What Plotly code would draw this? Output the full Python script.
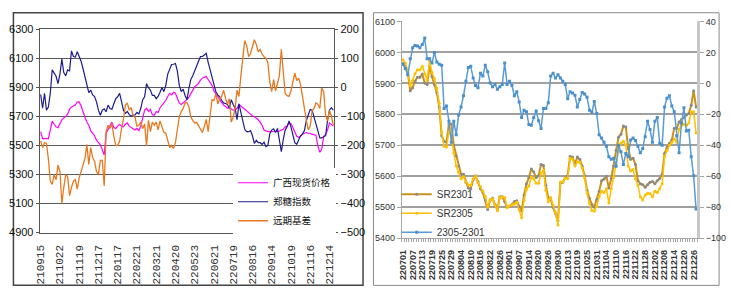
import plotly.graph_objects as go

# ---------------- left chart data ----------------
labels_left = ['210915', '211022', '211119', '211217', '220117', '220221', '220321', '220420',
               '220523', '220621', '220719', '220816', '220914', '221019', '221116', '221214']

spot_gx = [5594, 5546, 5546, 5546, 5546, 5605, 5667, 5645, 5627, 5621, 5649, 5676, 5689, 5698, 5715, 5748,
           5764, 5770, 5777, 5799, 5799, 5770, 5726, 5693, 5660, 5638, 5601, 5583, 5566, 5535, 5517, 5504,
           5469, 5434, 5583, 5610, 5638, 5660, 5623, 5616, 5632, 5645, 5632, 5627, 5645, 5654, 5632, 5623,
           5614, 5605, 5616, 5599, 5632, 5682, 5742, 5755, 5733, 5748, 5711, 5707, 5733, 5726, 5759, 5775,
           5792, 5810, 5836, 5858, 5847, 5865, 5858, 5821, 5790, 5781, 5792, 5803, 5814, 5832, 5854, 5880,
           5902, 5913, 5926, 5948, 5962, 5968, 5973, 5953, 5931, 5913, 5874, 5858, 5836, 5812, 5790, 5777,
           5768, 5755, 5759, 5748, 5742, 5742, 5755, 5781, 5768, 5755, 5748, 5737, 5726, 5715, 5702, 5698,
           5689, 5676, 5660, 5638, 5605, 5597, 5594, 5594, 5594, 5597, 5599, 5594, 5597, 5605, 5610, 5627,
           5632, 5654, 5649, 5623, 5592, 5562, 5555, 5562, 5577, 5583, 5588, 5583, 5583, 5575, 5573, 5570,
           5496, 5452, 5474, 5562, 5573, 5605, 5654, 5645, 5632]

zz_index = [5850, 5755, 5858, 5742, 5764, 5858, 6019, 5997, 5975, 5924, 5990, 6093, 6001, 5979, 6019, 6012,
            6150, 6111, 6107, 6144, 6115, 6078, 6027, 5968, 5902, 5863, 5880, 5847, 5836, 5799, 5742, 5707,
            5742, 5751, 5731, 5777, 5753, 5748, 5786, 5821, 5834, 5858, 5803, 5742, 5720, 5733, 5711, 5702,
            5707, 5709, 5726, 5715, 5755, 5814, 5834, 5924, 5896, 5880, 5843, 5843, 5821, 5836, 5865, 5898,
            5869, 5913, 5990, 6023, 6056, 6058, 6063, 6012, 5913, 5869, 5887, 5843, 5814, 5891, 5953, 5979,
            6016, 6041, 6078, 6111, 6111, 6122, 6133, 6071, 6019, 5968, 5902, 5869, 5847, 5834, 5810, 5792,
            5788, 5781, 5755, 5814, 5781, 5755, 5676, 5786, 5726, 5660, 5610, 5594, 5594, 5601, 5566, 5513,
            5535, 5518, 5518, 5507, 5522, 5491, 5500, 5579, 5605, 5614, 5588, 5616, 5535, 5456, 5539, 5605,
            5627, 5667, 5627, 5573, 5518, 5507, 5544, 5566, 5579, 5601, 5671, 5704, 5746, 5742, 5693, 5645,
            5594, 5551, 5551, 5557, 5566, 5671, 5742, 5759, 5742]

basis_far = [-185, -208, -191, -193, -246, -323, -334, -301, -318, -268, -290, -400, -345, -301, -307, -373,
             -345, -323, -318, -351, -312, -288, -268, -246, -197, -266, -208, -241, -255, -290, -301, -252,
             -252, -340, -153, -131, -142, -125, -169, -200, -200, -186, -142, -109, -62, -54, -79, -70,
             -98, -103, -134, -131, -120, -142, -127, -202, -114, -153, -120, -131, -120, -147, -116, -138,
             -156, -158, -180, -208, -200, -211, -191, -147, -101, -84, -73, -54, -53, -68, -103, -114,
             -123, -121, -132, -143, -156, -136, -111, -153, -98, -43, -46, -22, -57, -40, -32, -10,
             -38, -59, -40, -120, -103, -73, -10, -32, 40, 105, 160, 144, 105, 116, 138, 163,
             147, 122, 130, 114, 105, 100, 84, 18, -15, 26, -13, 15, 40, 130, 67, -21,
             -29, -32, -13, 20, 48, 23, 31, 9, -37, -73, -114, -147, -134, -81, -73, -54,
             -59, -73, -3, -15, -98, -116, -81, -98, -131]

# ---------------- right chart data ----------------
labels_right = ['220701', '220707', '220713', '220719', '220725', '220729', '220804', '220810', '220816',
                '220822', '220826', '220901', '220907', '220914', '220920', '220926', '220930', '221013',
                '221019', '221025', '221031', '221104', '221110', '221116', '221122', '221128', '221202',
                '221208', '221214', '221220', '221226']

sr2301 = [5964, 5955, 5935, 5876, 5886, 5907, 5920, 5920, 5930, 5901, 5896, 5955, 5922, 5896, 5870, 5824,
          5731, 5713, 5710, 5769, 5769, 5700, 5666, 5633, 5607, 5607, 5581, 5562, 5560, 5589, 5602, 5583,
          5560, 5548, 5524, 5493, 5524, 5529, 5509, 5493, 5534, 5534, 5519, 5500, 5503, 5509, 5519, 5521,
          5503, 5488, 5540, 5576, 5596, 5624, 5614, 5596, 5602, 5638, 5635, 5571, 5531, 5527, 5500, 5480,
          5457, 5579, 5581, 5596, 5602, 5664, 5662, 5641, 5662, 5655, 5633, 5602, 5555, 5529, 5509, 5500,
          5525, 5552, 5586, 5591, 5600, 5562, 5593, 5633, 5684, 5726, 5736, 5762, 5759, 5690, 5655, 5658,
          5638, 5586, 5576, 5573, 5565, 5573, 5581, 5583, 5576, 5586, 5593, 5607, 5674, 5693, 5707, 5717,
          5755, 5755, 5775, 5783, 5790, 5798, 5803, 5829, 5876, 5824]

sr2305 = [5976, 5965, 5940, 5892, 5909, 5931, 5944, 5943, 5955, 5930, 5912, 5971, 5935, 5916, 5884, 5836,
          5743, 5697, 5695, 5744, 5731, 5675, 5633, 5613, 5592, 5599, 5582, 5572, 5571, 5592, 5601, 5580,
          5566, 5553, 5536, 5500, 5524, 5527, 5508, 5489, 5532, 5533, 5532, 5499, 5504, 5508, 5511, 5516,
          5491, 5466, 5523, 5558, 5569, 5597, 5592, 5578, 5578, 5609, 5619, 5555, 5518, 5532, 5507, 5483,
          5443, 5582, 5582, 5595, 5592, 5658, 5656, 5633, 5647, 5645, 5627, 5595, 5546, 5512, 5490, 5488,
          5503, 5534, 5552, 5548, 5560, 5514, 5560, 5596, 5638, 5684, 5707, 5713, 5700, 5633, 5617, 5622,
          5591, 5571, 5534, 5524, 5540, 5545, 5545, 5534, 5552, 5548, 5560, 5576, 5664, 5684, 5700, 5710,
          5721, 5710, 5752, 5765, 5767, 5765, 5772, 5808, 5808, 5740]

spread = [12.3, 9.6, 5.5, 15.8, 23.0, 24.5, 24.1, 23.0, 25.1, 29.2, 15.8, 15.8, 13.1, 19.9, 13.7, 12.3,
          11.7, -16.2, -14.6, -24.5, -38.0, -24.5, -33.2, -20.4, -15.2, -8.0, 1.3, 10.2, 11.0, 3.4, -1.4, -2.8,
          6.5, 4.8, 11.7, 7.5, 0.2, -2.2, -0.7, -3.8, -2.2, -0.7, 13.1, -0.7, 1.3, -1.4, -8.0, -5.5,
          -12.1, -22.0, -17.3, -18.3, -26.6, -27.0, -22.0, -17.9, -24.1, -29.1, -16.2, -16.2, -12.5, 4.8, 6.5, 3.4,
          5.5, 3.4, 1.3, -0.7, -10.0, -5.5, -6.3, -7.6, -15.2, -10.5, -5.9, -6.9, -9.0, -17.3, -18.7, -11.7,
          -19.5, -33.2, -35.3, -38.0, -40.6, -47.3, -48.9, -48.3, -53.5, -40.0, -44.2, -52.4, -45.2, -47.3, -36.5, -35.3,
          -36.9, -40.6, -44.8, -42.1, -34.4, -24.5, -29.7, -38.0, -24.5, -22.0, -38.6, -40.0, -15.2, -9.6, -8.0, -14.6,
          -18.3, -33.8, -44.8, -25.6, -15.8, -30.7, -30.3, -47.3, -59.7, -81.0]

# ---------------- build figure ----------------
W, H = 731, 300
xl = list(range(len(spot_gx)))
xr = list(range(len(sr2301)))
tv_left = list(range(0, 10 * len(labels_left), 10))
tv_right = list(range(0, 4 * len(labels_right), 4))

NARROW = "Liberation Sans Narrow, Arial Narrow, Liberation Sans, sans-serif"
CJK = "Noto Sans CJK SC, sans-serif"

fig = go.Figure()
fig.add_trace(go.Scatter(x=xl, y=spot_gx, name='广西现货价格', mode='lines',
                         line=dict(color='#FF00FF', width=1.2), xaxis='x', yaxis='y', legend='legend'))
fig.add_trace(go.Scatter(x=xl, y=zz_index, name='郑糖指数', mode='lines',
                         line=dict(color='#1C1C8E', width=1.2), xaxis='x', yaxis='y', legend='legend'))
fig.add_trace(go.Scatter(x=xl, y=basis_far, name='远期基差', mode='lines',
                         line=dict(color='#E8781E', width=1.3), xaxis='x', yaxis='y2', legend='legend'))

fig.add_trace(go.Scatter(x=xr, y=sr2301, name='SR2301', mode='lines+markers',
                         line=dict(color='#C8921C', width=2),
                         marker=dict(color='#8A8A8A', size=3, symbol='circle'),
                         xaxis='x2', yaxis='y3', legend='legend2'))
fig.add_trace(go.Scatter(x=xr, y=sr2305, name='SR2305', mode='lines+markers',
                         line=dict(color='#FFC000', width=1.5),
                         marker=dict(color='#FFC000', size=3, symbol='circle'),
                         xaxis='x2', yaxis='y3', legend='legend2'))
fig.add_trace(go.Scatter(x=xr, y=spread, name='2305-2301', mode='lines+markers',
                         line=dict(color='#5B9BD5', width=1.5),
                         marker=dict(color='#4A90CC', size=3, symbol='square'),
                         xaxis='x2', yaxis='y4', legend='legend2'))

fig.update_layout(
    width=W, height=H, margin=dict(l=0, r=0, t=0, b=0),
    paper_bgcolor='white', plot_bgcolor='white', showlegend=True,
    xaxis=dict(domain=[36 / W, 333 / W], range=[-0.5, len(xl) - 0.5], anchor='y',
               tickmode='array', tickvals=tv_left, ticktext=labels_left, tickangle=-90,
               tickfont=dict(family='Liberation Mono, DejaVu Sans Mono, monospace', size=11, color='#333'),
               showgrid=False, zeroline=False, showline=True, mirror=True, linecolor='#555', linewidth=1,
               ticks='', ticklabelstandoff=7),
    yaxis=dict(domain=[1 - 236 / H, 1 - 24 / H], range=[4900, 6300], tick0=4900, dtick=200,
               anchor='x', showgrid=True, gridcolor='#5A5A5A', gridwidth=1, zeroline=False,
               showline=True, mirror=True, linecolor='#555', linewidth=1,
               ticks='outside', ticklen=3, tickcolor='#555',
               tickfont=dict(family=NARROW, size=11, color='#111')),
    yaxis2=dict(overlaying='y', side='right', anchor='x', range=[-500, 200], tick0=-500, dtick=100,
                showgrid=False, zeroline=False, showline=False,
                ticks='outside', ticklen=3, tickcolor='#555',
                tickfont=dict(family=NARROW, size=11, color='#111')),
    xaxis2=dict(domain=[401 / W, 699 / W], range=[-0.5, len(xr) - 0.5], anchor='y3',
                tickmode='array', tickvals=tv_right, ticktext=labels_right, tickangle=-90,
                tickfont=dict(family='Liberation Sans, Arial, sans-serif', size=9, color='#333', weight='bold'),
                showgrid=False, zeroline=False, showline=True, linecolor='#A6A6A6', linewidth=1,
                ticks='', ticklabelstandoff=7,
                minor=dict(tickmode='linear', tick0=-0.5, dtick=1, ticks='outside', ticklen=3,
                           tickcolor='#A6A6A6', showgrid=False)),
    yaxis3=dict(domain=[1 - 242 / H, 1 - 16 / H], range=[5400, 6100], tick0=5400, dtick=100,
                anchor='x2', showgrid=True, gridcolor='#A0A0A0', gridwidth=1.5, zeroline=False,
                showline=True, linecolor='#A6A6A6', linewidth=1,
                ticks='outside', ticklen=4, tickcolor='#A6A6A6',
                tickfont=dict(family=NARROW, size=9, color='#333')),
    yaxis4=dict(overlaying='y3', side='right', anchor='x2', range=[-100, 40], tick0=-100, dtick=20,
                showgrid=False, zeroline=False, showline=True, linecolor='#C8C8C8', linewidth=2.5,
                ticks='outside', ticklen=4, tickcolor='#A6A6A6',
                tickfont=dict(family=NARROW, size=9, color='#333')),
    legend=dict(x=231 / W, y=1 - 169 / H, xanchor='left', yanchor='top', bgcolor='white',
                font=dict(family=CJK, size=9.5, color='#111'), tracegroupgap=0,
                borderwidth=0),
    legend2=dict(x=396 / W, y=1 - 181 / H, xanchor='left', yanchor='top', bgcolor='rgba(0,0,0,0)',
                 font=dict(family=NARROW, size=10, color='#333'), tracegroupgap=0,
                 borderwidth=0),
    shapes=[
        dict(type='rect', xref='paper', yref='paper', x0=9.5 / W, x1=362 / W, y0=1 - 291 / H, y1=1 - 7 / H,
             line=dict(color='#444', width=1.5), fillcolor='rgba(0,0,0,0)', layer='below'),
        dict(type='rect', xref='paper', yref='paper', x0=372.5 / W, x1=721 / W, y0=1 - 291 / H, y1=1 - 7 / H,
             line=dict(color='#888', width=1), fillcolor='rgba(0,0,0,0)', layer='below'),
    ],
)

fig.write_html("out.html")
